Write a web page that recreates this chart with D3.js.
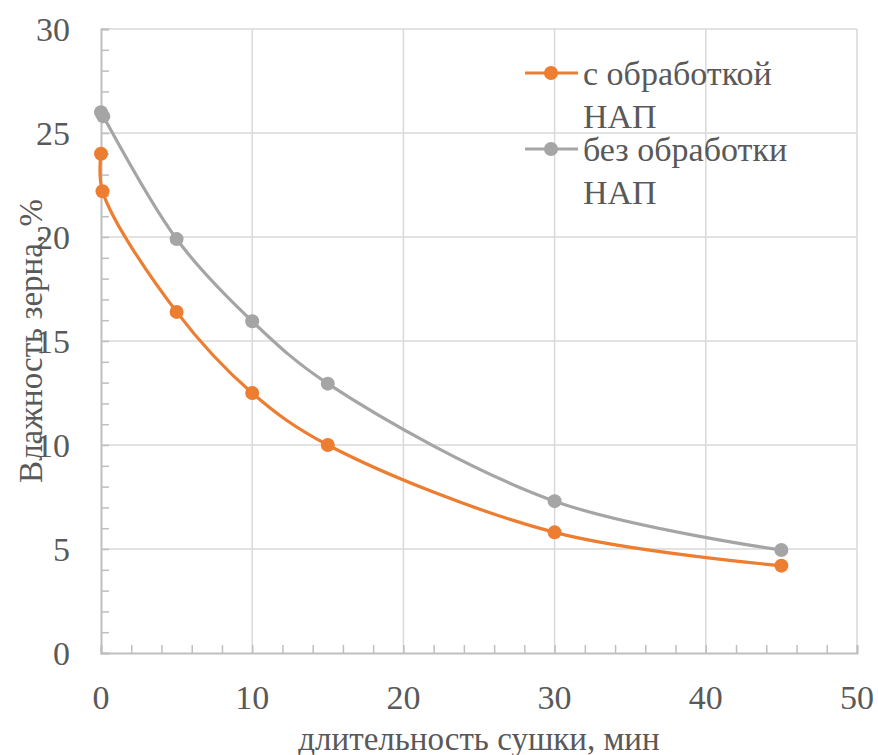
<!DOCTYPE html>
<html>
<head>
<meta charset="utf-8">
<script src="https://cdn.jsdelivr.net/npm/d3@7"></script>
<style>
  body { margin: 0; background: #fff; }
  svg text { font-family: "Liberation Serif", "DejaVu Serif", "Times New Roman", serif; }
</style>
</head>
<body>
<div id="chart"></div>
<script>
// Data
var seriesNames = ["с обработкой НАП", "без обработки НАП"];
var xTreated = [0, 0.1, 5, 10, 15, 30, 45];
var yTreated = [24.0, 22.2, 16.4, 12.5, 10.0, 5.8, 4.2];
var xUntreated = [0, 0.15, 5, 10, 15, 30, 45];
var yUntreated = [26.0, 25.8, 19.9, 15.95, 12.95, 7.3, 4.95];
var xTicks = [0, 10, 20, 30, 40, 50];
var yTicks = [0, 5, 10, 15, 20, 25, 30];

var svgWidth = 878;
var svgHeight = 755;
var margin = { top: 29, bottom: 102, left: 101, right: 21 };
var width = svgWidth - margin.left - margin.right;
var height = svgHeight - margin.top - margin.bottom;

var colors = ["#ED7D31", "#A5A5A5"];
var textColor = "#595959";

var svg = d3.select("#chart")
  .append("svg")
  .attr("width", svgWidth)
  .attr("height", svgHeight);

var chartGroup = svg.append("g")
  .attr("transform", `translate(${margin.left}, ${margin.top})`);

var x = d3.scaleLinear().domain([0, 50]).range([0, width]);
var y = d3.scaleLinear().domain([0, 30]).range([height, 0]);

// gridlines
chartGroup.append("g")
  .selectAll("line")
  .data(yTicks.filter(d => d > 0))
  .enter()
  .append("line")
  .attr("x1", 0).attr("x2", width)
  .attr("y1", d => y(d)).attr("y2", d => y(d))
  .attr("stroke", "#d9d9d9").attr("stroke-width", 1.5);

chartGroup.append("g")
  .selectAll("line")
  .data(xTicks.filter(d => d > 0))
  .enter()
  .append("line")
  .attr("y1", 0).attr("y2", height)
  .attr("x1", d => x(d)).attr("x2", d => x(d))
  .attr("stroke", "#d9d9d9").attr("stroke-width", 1.5);

// axes with inner minor ticks
var bottomAxis = d3.axisBottom(x).tickValues(d3.range(0, 51, 2)).tickSize(-8).tickFormat("");
var leftAxis = d3.axisLeft(y).tickValues(d3.range(0, 31, 1)).tickSize(-8).tickFormat("");

var xAxisG = chartGroup.append("g")
  .attr("transform", `translate(0, ${height})`)
  .call(bottomAxis);
var yAxisG = chartGroup.append("g").call(leftAxis);

[xAxisG, yAxisG].forEach(function(g) {
  g.select(".domain").attr("stroke", "#bfbfbf").attr("stroke-width", 2);
  g.selectAll(".tick line").attr("stroke", "#bfbfbf").attr("stroke-width", 1.5);
});

// tick labels
chartGroup.append("g")
  .selectAll("text")
  .data(xTicks)
  .enter()
  .append("text")
  .attr("x", d => x(d))
  .attr("y", height + 44)
  .attr("dy", "0.35em")
  .attr("text-anchor", "middle")
  .attr("fill", textColor)
  .attr("font-size", "34px")
  .text(d => d);

chartGroup.append("g")
  .selectAll("text")
  .data(yTicks)
  .enter()
  .append("text")
  .attr("x", -31)
  .attr("y", d => y(d))
  .attr("dy", "0.35em")
  .attr("text-anchor", "end")
  .attr("fill", textColor)
  .attr("font-size", "34px")
  .text(d => d);

// axis titles
svg.append("text")
  .attr("x", margin.left + width / 2)
  .attr("y", 750)
  .attr("text-anchor", "middle")
  .attr("fill", textColor)
  .attr("font-size", "33px")
  .text("длительность сушки, мин");

svg.append("text")
  .attr("transform", `translate(42, ${margin.top + height / 2}) rotate(-90)`)
  .attr("text-anchor", "middle")
  .attr("fill", textColor)
  .attr("font-size", "33px")
  .text("Влажность зерна, %");

// series
var series = [
  d3.zip(xTreated, yTreated),
  d3.zip(xUntreated, yUntreated)
];

var line = d3.line()
  .x(d => x(d[0]))
  .y(d => y(d[1]))
  .curve(d3.curveCatmullRom.alpha(0.5));

series.forEach(function(pts, i) {
  chartGroup.append("path")
    .datum(pts)
    .attr("d", line)
    .attr("fill", "none")
    .attr("stroke", colors[i])
    .attr("stroke-width", 3.2)
    .attr("stroke-linecap", "round");

  chartGroup.selectAll(".pt" + i)
    .data(pts)
    .enter()
    .append("circle")
    .attr("class", "pt" + i)
    .attr("cx", d => x(d[0]))
    .attr("cy", d => y(d[1]))
    .attr("r", 7)
    .attr("fill", colors[i]);
});

// legend
var legendRows = [
  { words: ["с обработкой", "НАП"], lineY: 73 },
  { words: ["без обработки", "НАП"], lineY: 149 }
];
legendRows.forEach(function(row, i) {
  var g = svg.append("g");
  g.append("line")
    .attr("x1", 525).attr("x2", 578)
    .attr("y1", row.lineY).attr("y2", row.lineY)
    .attr("stroke", colors[i]).attr("stroke-width", 3.2);
  g.append("circle")
    .attr("cx", 551).attr("cy", row.lineY).attr("r", 7)
    .attr("fill", colors[i]);
  row.words.forEach(function(w, j) {
    g.append("text")
      .attr("x", 583)
      .attr("y", row.lineY + 12 + j * 43)
      .attr("fill", textColor)
      .attr("font-size", "34px")
      .text(w);
  });
});
</script>
</body>
</html>
